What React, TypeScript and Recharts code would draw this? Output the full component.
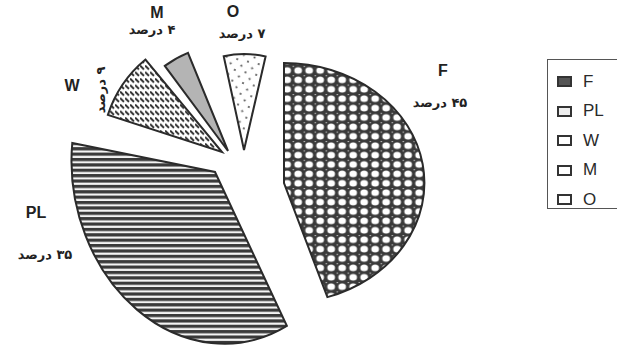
import { PieChart, Pie, Sector, Legend } from "recharts";

const names = ["F", "PL", "W", "M", "O"];
const shares = [45, 35, 9, 4, 7];
const shareLabels = ["۴۵ درصد", "۳۵ درصد", "۹ درصد", "۴ درصد", "۷ درصد"];

const data = names.map((name, i) => ({ name, value: shares[i], label: shareLabels[i] }));

// per-slice look: fill pattern, radius, explode offset, skew of the drawing, label offsets
const sliceStyle: Record<string, any> = {
  F: { fill: "url(#pF)", r: 120, sx: 1.17, sy: 1, turn: 0, off: [44, 13], nameAt: [159, -113], pctAt: [156, -81], rot: 0 },
  PL: { fill: "url(#pPL)", r: 150, sx: 0.95, sy: 1.15, turn: -10, off: [-25, 2], nameAt: [-179, 40], pctAt: [-170, 82], rot: 0 },
  W: { fill: "url(#pW)", r: 120, sx: 1, sy: 1, turn: 0, off: [-18, -18], nameAt: [-150, -67], pctAt: [-122, -62], rot: -90 },
  M: { fill: "#b4b4b4", r: 106, sx: 1, sy: 1, turn: 3, off: [-12, -19], nameAt: [-71, -139], pctAt: [-76, -122], rot: 0 },
  O: { fill: "url(#pO)", r: 96, sx: 1, sy: 1, turn: 13, off: [4, -20], nameAt: [-11, -139], pctAt: [-2, -117], rot: 0 },
};

const SliceShape = (props: any) => {
  const s = sliceStyle[props.name ?? props.payload?.name];
  const tx = props.cx + s.off[0];
  const ty = props.cy + s.off[1];
  return (
    <g transform={`translate(${tx} ${ty}) rotate(${s.turn}) scale(${s.sx} ${s.sy}) translate(${-tx} ${-ty})`}>
      <Sector
        cx={tx}
        cy={ty}
        innerRadius={0}
        outerRadius={s.r}
        startAngle={props.startAngle}
        endAngle={props.endAngle}
        fill={s.fill}
        stroke="#2b2b2b"
        strokeWidth={2}
        strokeLinejoin="miter"
        vectorEffect="non-scaling-stroke"
      />
    </g>
  );
};

const SliceLabel = (props: any) => {
  const s = sliceStyle[props.name ?? props.payload?.name];
  const tx = props.cx + s.off[0];
  const ty = props.cy + s.off[1];
  const px = tx + s.pctAt[0];
  const py = ty + s.pctAt[1];
  return (
    <g>
      <text
        x={tx + s.nameAt[0]}
        y={ty + s.nameAt[1]}
        textAnchor="middle"
        dominantBaseline="central"
        fontFamily="Liberation Sans, Arial, sans-serif"
        fontWeight="bold"
        fontSize={16}
        fill="#222"
      >
        {props.payload?.name ?? props.name}
      </text>
      <text
        x={px}
        y={py}
        transform={s.rot ? `rotate(${s.rot} ${px} ${py})` : undefined}
        textAnchor="middle"
        dominantBaseline="central"
        direction="rtl"
        fontFamily="DejaVu Sans, sans-serif"
        fontWeight="bold"
        fontSize={13}
        fill="#222"
      >
        {props.payload?.label}
      </text>
    </g>
  );
};

const iconFill: Record<string, string> = { F: "#555", PL: "#eee", W: "#fff", M: "#fff", O: "#fff" };

const LegendBox = () => (
  <div
    style={{
      width: 90,
      height: 150,
      border: "1.5px solid #555",
      boxSizing: "border-box",
      paddingTop: 7,
      paddingLeft: 9,
      fontFamily: "Liberation Sans, Arial, sans-serif",
      fontSize: 17,
      color: "#2a2a2a",
    }}
  >
    {names.map((n) => (
      <div key={n} style={{ display: "flex", alignItems: "center", height: 29.5 }}>
        <svg width={15} height={11} style={{ marginRight: 11 }}>
          <rect x={1} y={1} width={13} height={9} fill={iconFill[n]} stroke="#333" strokeWidth={2} />
        </svg>
        <span>{n}</span>
      </div>
    ))}
  </div>
);

export default function App() {
  return (
    <div style={{ position: "absolute", left: 0, top: 0, width: 617, height: 351, background: "#fff", overflow: "hidden" }}>
      <PieChart width={617} height={351} margin={{ top: 0, right: 0, bottom: 0, left: 0 }}>
        <defs>
          <pattern id="pF" width={9.4} height={9.4} patternUnits="userSpaceOnUse">
            <rect width={9.4} height={9.4} fill="#3a3a3a" />
            <circle cx={4.7} cy={4.7} r={3.3} fill="#fff" />
            <circle cx={0} cy={0} r={1.2} fill="#ddd" />
          </pattern>
          <pattern id="pPL" width={6} height={4.7} patternUnits="userSpaceOnUse" patternTransform="rotate(8.3)">
            <rect width={6} height={4.7} fill="#f4f4f4" />
            <rect y={0} width={6} height={2.8} fill="#3a3a3a" />
          </pattern>
          <pattern id="pW" width={5} height={6.5} patternUnits="userSpaceOnUse">
            <rect width={5} height={6.5} fill="#fff" />
            <line x1={0} y1={0.5} x2={4} y2={4.5} stroke="#2f2f2f" strokeWidth={2} />
          </pattern>
          <pattern id="pO" width={11} height={11} patternUnits="userSpaceOnUse">
            <rect width={11} height={11} fill="#fff" />
            <circle cx={2.5} cy={2.5} r={1.1} fill="#555" />
            <circle cx={8} cy={8} r={1.1} fill="#555" />
          </pattern>
        </defs>
        <Pie
          data={data}
          dataKey="value"
          nameKey="name"
          cx={240}
          cy={170}
          outerRadius={120}
          startAngle={90}
          endAngle={-270}
          isAnimationActive={false}
          shape={SliceShape}
          activeShape={SliceShape}
          inactiveShape={SliceShape}
          label={SliceLabel}
          labelLine={false}
        />
        <Legend
          layout="vertical"
          align="right"
          verticalAlign="top"
          content={LegendBox}
          wrapperStyle={{ position: "absolute", left: 547, top: 59, width: 90 }}
        />
      </PieChart>
    </div>
  );
}
